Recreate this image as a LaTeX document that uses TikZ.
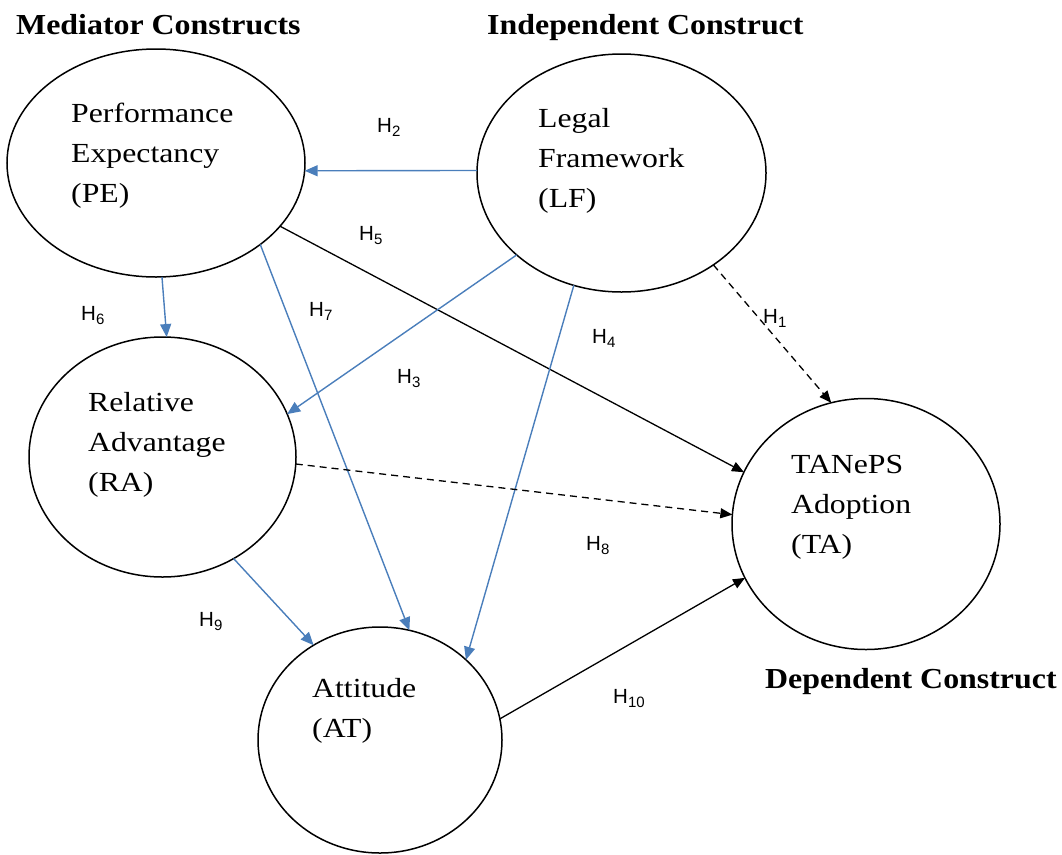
\documentclass[tikz,border=0pt]{standalone}
\usepackage{fontspec}
\usetikzlibrary{arrows.meta,shapes.geometric}
\newfontfamily\lblfont{Liberation Serif}[FakeStretch=1.15]
\newfontfamily\ttlfont{Liberation Serif}[FakeStretch=1.10]
\newfontfamily\hfont{Liberation Sans}
\definecolor{lineblue}{RGB}{74,126,187}
\newcommand\Hlab[1]{H\raisebox{-4pt}{\fontsize{15}{15}\selectfont #1}}
\begin{document}
\begin{tikzpicture}[x=1pt,y=-1pt,
  construct/.style={ellipse, draw, line width=1.5pt, inner sep=0pt, outer sep=0pt},
  ctext/.style={anchor=base west, inner sep=0pt, font=\lblfont\fontsize{27.6}{40}\selectfont},
  ttl/.style={anchor=base west, inner sep=0pt, font=\ttlfont\bfseries\fontsize{29}{35}\selectfont},
  hlab/.style={anchor=base west, inner sep=0pt, font=\hfont\fontsize{20.5}{24}\selectfont},
  blink/.style={draw=lineblue, line width=1.4pt, -{Triangle[length=13pt,width=11pt]}},
  klink/.style={draw=black, line width=1.3pt, -{Triangle[length=12pt,width=10pt]}},
  dlink/.style={klink, dash pattern=on 7pt off 5pt}]
\useasboundingbox (0,0) rectangle (1062,854);

% constructs
\node[construct, minimum width=298pt, minimum height=228pt] (PE) at (156,163) {};
\node[construct, minimum width=289pt, minimum height=238pt] (LF) at (621.5,173) {};
\node[construct, minimum width=267pt, minimum height=240pt] (RA) at (162.5,457) {};
\node[construct, minimum width=244pt, minimum height=226pt] (AT) at (380,740) {};
\node[construct, minimum width=268pt, minimum height=251pt] (TA) at (866,524) {};

% construct texts
\node[ctext] (PEt) at (71,122) {\begin{tabular}[t]{@{}l@{}}Performance\\Expectancy\\(PE)\end{tabular}};
\node[ctext] (LFt) at (538,127) {\begin{tabular}[t]{@{}l@{}}Legal\\Framework\\(LF)\end{tabular}};
\node[ctext] (RAt) at (88,411) {\begin{tabular}[t]{@{}l@{}}Relative\\Advantage\\(RA)\end{tabular}};
\node[ctext] (ATt) at (312,697) {\begin{tabular}[t]{@{}l@{}}Attitude\\(AT)\end{tabular}};
\node[ctext] (TAt) at (791,473) {\begin{tabular}[t]{@{}l@{}}TANePS\\Adoption\\(TA)\end{tabular}};

% titles
\node[ttl] (tmed) at (16,34) {Mediator Constructs};
\node[ttl] (tind) at (487,34) {Independent Construct};
\node[ttl] (tdep) at (765,688) {Dependent Construct};

% connectors
\draw[blink] (LF.179) -- (PE.-3);
\draw[blink] (PE.-87) -- (RA.88);
\draw[klink] (PE.-27) -- (TA.157);
\draw[blink] (PE.-38) -- (AT.75);
\draw[blink] (LF.-142) -- (RA.19);
\draw[blink] (LF.-113) -- (AT.43);
\draw[dlink] (LF.-45) -- (TA.106);
\draw[dlink] (RA.-3) -- (TA.176);
\draw[blink] (RA.-55) -- (AT.125);
\draw[klink] (AT.10) -- (TA.-156);

% hypothesis labels
\node[hlab] (h1) at (763,323) {\Hlab{1}};
\node[hlab] (h2) at (377,132) {\Hlab{2}};
\node[hlab] (h3) at (397,383) {\Hlab{3}};
\node[hlab] (h4) at (592,343) {\Hlab{4}};
\node[hlab] (h5) at (359,240) {\Hlab{5}};
\node[hlab] (h6) at (81,320) {\Hlab{6}};
\node[hlab] (h7) at (309,316) {\Hlab{7}};
\node[hlab] (h8) at (586,550) {\Hlab{8}};
\node[hlab] (h9) at (199,626) {\Hlab{9}};
\node[hlab] (h10) at (613,703) {\Hlab{10}};
\end{tikzpicture}
\end{document}
